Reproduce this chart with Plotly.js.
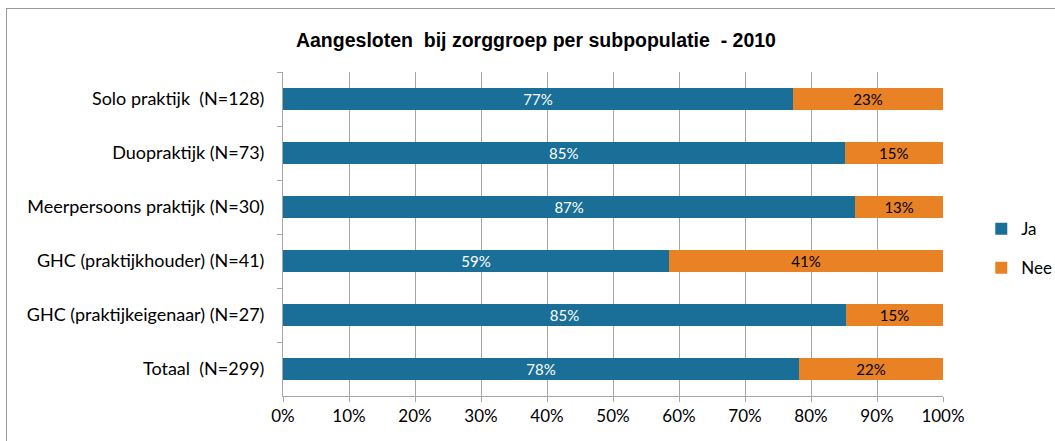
<!DOCTYPE html>
<html>
<head>
<meta charset="utf-8">
<script src="https://cdn.plot.ly/plotly-3.0.1.min.js"></script>
<style>
  html, body { margin: 0; padding: 0; background: #ffffff; overflow: hidden; }
  #frame { position: absolute; left: 6px; top: 8px; width: 1200px; height: 600px; border: 1px solid #9a9a9a; box-sizing: border-box; }
  #chart { position: absolute; left: 0; top: 0; width: 1055px; height: 441px; }
</style>
</head>
<body>
<div id="frame"></div>
<div id="chart"></div>
<script>
const categories = [
  "Solo praktijk  (N=128)",
  "Duopraktijk (N=73)",
  "Meerpersoons praktijk (N=30)",
  "GHC (praktijkhouder) (N=41)",
  "GHC (praktijkeigenaar) (N=27)",
  "Totaal  (N=299)"
];
const jaValues  = [77.3, 85.1, 86.7, 58.5, 85.3, 78.2];
const neeValues = [22.7, 14.9, 13.3, 41.5, 14.7, 21.8];
const jaLabels  = ["77%", "85%", "87%", "59%", "85%", "78%"];
const neeLabels = ["23%", "15%", "13%", "41%", "15%", "22%"];
const xTickVals  = [0, 10, 20, 30, 40, 50, 60, 70, 80, 90, 100];
const xTickText  = ["0%", "10%", "20%", "30%", "40%", "50%", "60%", "70%", "80%", "90%", "100%"];

const bodyFont = "Lato, 'Open Sans', 'Noto Sans', sans-serif";

const traces = [
  {
    type: "bar", orientation: "h", name: "Ja", legendgroup: "ja",
    y: categories, x: jaValues, text: jaLabels,
    textposition: "inside", insidetextanchor: "middle", constraintext: "none",
    textfont: { color: "#ffffff", size: 15, family: bodyFont },
    marker: { color: "#1a6f98", line: { width: 0 } },
    hoverinfo: "none"
  },
  {
    type: "bar", orientation: "h", name: "Nee", legendgroup: "nee",
    y: categories, x: neeValues, text: neeLabels,
    textposition: "inside", insidetextanchor: "middle", constraintext: "none",
    textfont: { color: "#000000", size: 15, family: bodyFont },
    marker: { color: "#e88224", line: { width: 0 } },
    hoverinfo: "none"
  }
];

const layout = {
  width: 1055, height: 441,
  margin: { l: 283, r: 112, t: 72, b: 45, pad: 0, autoexpand: false },
  paper_bgcolor: "rgba(0,0,0,0)",
  plot_bgcolor: "rgba(0,0,0,0)",
  barmode: "stack",
  bargap: 0.6,
  title: {
    text: "<b>Aangesloten  bij zorggroep per subpopulatie  - 2010</b>",
    font: { family: "'Liberation Sans', Arial, sans-serif", size: 19.5, color: "#000000" },
    x: 0.508, xanchor: "center", y: 0.91, yanchor: "middle"
  },
  xaxis: {
    range: [0, 100], tickvals: xTickVals, ticktext: xTickText,
    showgrid: true, gridcolor: "#a6a6a6", gridwidth: 1,
    zeroline: false, showline: true, linecolor: "#a6a6a6", linewidth: 1,
    ticks: "outside", ticklen: 5, tickcolor: "#a6a6a6",
    tickfont: { family: bodyFont, size: 17, color: "#000000" },
    fixedrange: true, automargin: false
  },
  yaxis: {
    type: "category", autorange: "reversed",
    showgrid: false, zeroline: false,
    showline: true, linecolor: "#a6a6a6", linewidth: 1,
    ticks: "outside", ticklen: 5, tickcolor: "#a6a6a6", tickson: "boundaries",
    tickfont: { family: bodyFont, size: 18, color: "#000000" },
    ticklabelstandoff: 14,
    fixedrange: true, automargin: false
  },
  showlegend: true,
  legend: {
    x: 1.058, xanchor: "left", y: 0.455, yanchor: "middle",
    xref: "paper", yref: "paper",
    font: { family: bodyFont, size: 17, color: "#000000" },
    traceorder: "grouped", itemwidth: 30, tracegroupgap: 14,
    bgcolor: "rgba(0,0,0,0)"
  },
  uniformtext: { mode: false }
};

Plotly.newPlot("chart", traces, layout, { displayModeBar: false, staticPlot: true });
</script>
</body>
</html>
